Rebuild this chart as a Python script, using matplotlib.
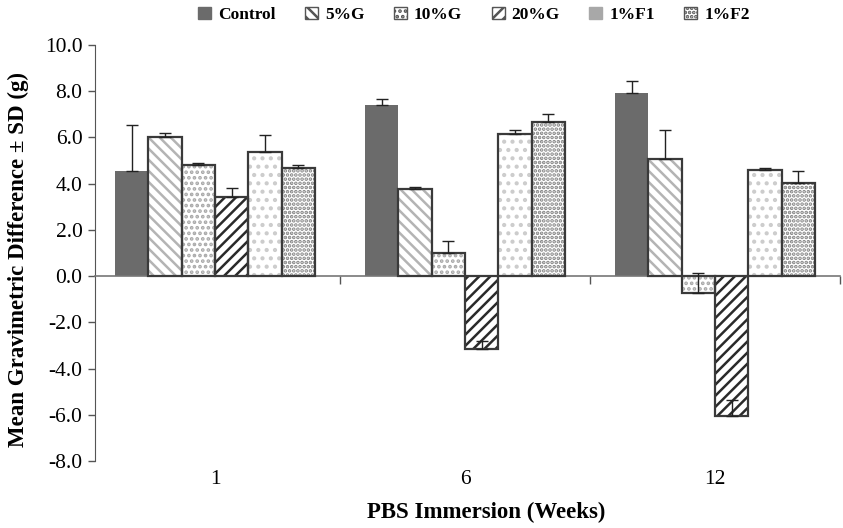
import matplotlib
matplotlib.use("Agg")
import matplotlib.pyplot as plt
import matplotlib.transforms as mtransforms
from matplotlib.patches import Patch
import numpy as np

plt.rcParams['font.family'] = ['Liberation Serif', 'DejaVu Serif']
plt.rcParams['hatch.linewidth'] = 1.8

weeks = ["1", "6", "12"]
groups = ["Control", "5%G", "10%G", "20%G", "1%F1", "1%F2"]
means = {
    "Control": [4.55, 7.42, 7.94],
    "5%G": [6.03, 3.79, 5.06],
    "10%G": [4.81, 1.02, -0.72],
    "20%G": [3.42, -3.17, -6.05],
    "1%F1": [5.38, 6.17, 4.58],
    "1%F2": [4.68, 6.67, 4.03],
}
sds = {
    "Control": [1.97, 0.26, 0.51],
    "5%G": [0.17, 0.07, 1.27],
    "10%G": [0.07, 0.52, 0.86],
    "20%G": [0.40, 0.35, 0.70],
    "1%F1": [0.72, 0.14, 0.11],
    "1%F2": [0.12, 0.35, 0.52],
}

# face, hatch, hatch colour, outline
styles = {
    "Control": ("#6b6b6b", None, None, None),
    "5%G": ("white", "\\\\\\", "#b4b4b4", "#3a3a3a"),
    "10%G": ("white", "...", "#a8a8a8", "#3a3a3a"),
    "20%G": ("white", "///", "#2a2a2a", "#3a3a3a"),
    "1%F1": ("white", "..", "#cccccc", "#3a3a3a"),
    "1%F2": ("white", "....", "#808080", "#3a3a3a"),
}

fig = plt.figure(figsize=(8.43, 5.28), dpi=100)
ax = fig.add_axes([95/843, 67/528, 745/843, 416/528])

x = np.arange(len(weeks))
w = 0.8/len(groups)
for i, g in enumerate(groups):
    pos = x - 0.4 + w*(i + 0.5)
    face, hatch, hcol, ecol = styles[g]
    if hatch is None:
        ax.bar(pos, means[g], w, color=face, linewidth=0, zorder=2)
    else:
        ax.bar(pos, means[g], w, color=face, hatch=hatch, edgecolor=hcol, linewidth=0, zorder=2)
        ax.bar(pos, means[g], w, fill=False, edgecolor=ecol, linewidth=1.6, zorder=3)
    ax.errorbar(pos, means[g], yerr=[np.zeros(3), sds[g]], fmt='none', ecolor='#222222',
                elinewidth=1.0, capsize=4, capthick=1.0, zorder=4)

ax.set_xlim(-0.48, 2.5)
ax.set_ylim(-8, 10)
ax.set_yticks(np.arange(-8, 10.1, 2))
ax.set_yticklabels([f"{v:.1f}" for v in np.arange(-8, 10.1, 2)], fontsize=15.5)
ax.tick_params(axis='y', direction='out', length=5, color='#555555', width=1, pad=4)

ax.spines['top'].set_visible(False)
ax.spines['right'].set_visible(False)
ax.spines['left'].set_color('#555555')
ax.spines['bottom'].set_position(('data', 0))
ax.spines['bottom'].set_color('#777777')
ax.spines['bottom'].set_linewidth(1.2)
ax.set_xticks([0.5, 1.5, 2.5])
ax.set_xticklabels([])
ax.tick_params(axis='x', direction='out', length=6, color='#555555', width=1)

trans = mtransforms.blended_transform_factory(ax.transData, ax.transAxes)
for xi, lab in zip(x, weeks):
    ax.text(xi, -0.045, lab, transform=trans, ha='center', va='center', fontsize=15.5)

ax.text(0.525, -0.123, "PBS Immersion (Weeks)", transform=ax.transAxes, ha='center',
        va='center', fontsize=16.5, fontweight='bold')
ax.set_ylabel("Mean Gravimetric Difference \u00b1 SD (g)", fontsize=16.5, fontweight='bold')
ax.yaxis.set_label_coords(-0.088, 0.485)

handles = []
for g in groups:
    face, hatch, hcol, ecol = styles[g]
    if g == "1%F1":
        handles.append(Patch(facecolor="#a8a8a8", edgecolor="#a8a8a8"))
    elif hatch is None:
        handles.append(Patch(facecolor=face, edgecolor=face))
    else:
        handles.append(Patch(facecolor=face, hatch=hatch, edgecolor="#555555", linewidth=1))
fig.legend(handles, groups, loc='center', bbox_to_anchor=(0.562, 0.972), ncol=6, frameon=False,
           prop={'weight': 'bold', 'size': 12.5}, handlelength=0.75, handleheight=0.75,
           handletextpad=0.4, columnspacing=1.7)

plt.savefig("out.png", dpi=100)
